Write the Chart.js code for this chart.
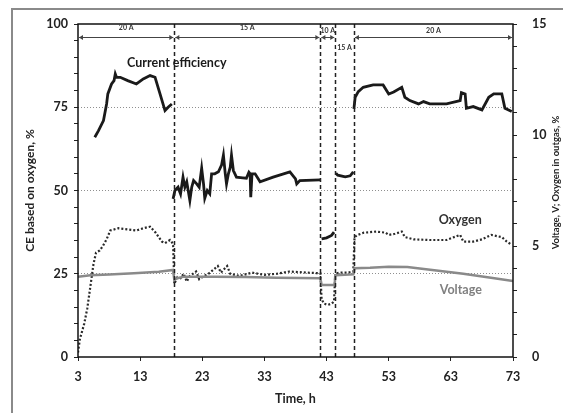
<!DOCTYPE html>
<html><head><meta charset="utf-8">
<script src="https://cdn.jsdelivr.net/npm/chart.js@4.4.0/dist/chart.umd.min.js"></script>
<style>html,body{margin:0;padding:0;background:#fff;}canvas{display:block;}</style>
</head><body>
<canvas id="c" width="563" height="413"></canvas>
<script>
// ---- data ----
const xTickValues = [3, 13, 23, 33, 43, 53, 63, 73];
const leftLabelValues = [0, 25, 50, 75, 100];
const rightLabelValues = [0, 5, 10, 15];

// current efficiency (left axis, %), null = gap between current periods
const ceTime = [5.7,6.3,7.1,7.6,7.8,8.4,8.8,9.0,9.2,9.8,11.0,12.4,13.5,14.6,15.4,16.2,17.0,17.5,18.1,18.2,
  18.3,18.6,19.1,19.5,19.9,20.2,20.5,21.0,21.3,21.6,22.1,22.5,22.9,23.2,23.4,23.8,24.2,24.5,25.0,25.6,26.1,26.4,26.7,26.9,27.2,27.5,27.7,28.0,28.5,29.5,30.1,30.5,30.7,30.8,31.0,31.5,32.3,34.4,37.1,38.0,38.2,38.7,42.0,42.1,
  42.2,43.0,43.8,44.2,44.3,
  44.5,44.8,46.0,46.8,47.3,47.35,
  47.4,47.6,48.1,48.9,50.5,52.1,53.0,53.8,55.1,55.6,56.4,57.8,58.6,59.6,62.3,64.5,64.7,65.3,65.5,66.6,68.0,69.1,69.9,71.2,71.7,72.8];
const ceValue = [66,68,71,76,79,82,83,85,84,84,83,82,83.5,84.5,84,79,74,75,76,null,
  47.5,50,51,49,54,51,52.6,47,51,53,52,51,56.7,52,47.7,50,49,55,55,55.6,57.6,60.6,55,52,55,57,60.6,56,54,53.8,53.7,55.5,55,48,55,55,52.6,54,55.6,53.5,52,53,53.2,null,
  35.5,35.8,36.5,37.5,null,
  55.2,54.6,54.1,54.4,55.6,null,
  74.5,78,79.7,81,81.7,81.7,79,79.6,81,78,77,76,76.7,76,76,77,79.4,79,74.7,75.2,74.2,78,79,79,74.7,73.7];

// oxygen in outgas (right axis, %)
const o2Time = [3.0,3.3,3.7,4.0,4.5,5.0,5.5,5.9,6.5,7.0,7.6,8.2,9.5,11.0,12.4,13.5,14.6,15.5,16.5,17.0,17.8,18.3,
  18.5,19.0,19.5,20.0,20.5,21.0,22.0,22.5,23.0,24.0,25.5,26.0,27.0,27.5,29.0,31.0,33.0,35.0,37.0,40.0,42.0,
  42.2,42.6,43.2,43.8,44.2,
  44.4,45.0,46.5,47.3,
  47.5,48.0,49.0,51.0,52.5,53.0,54.0,55.1,55.6,57.0,59.6,62.3,64.0,64.5,65.0,66.6,68.0,69.5,71.2,72.0,72.8];
const o2Value = [0.2,0.8,1.2,1.5,2.2,3.2,4.2,4.7,4.8,5.0,5.3,5.7,5.8,5.75,5.7,5.8,5.87,5.6,5.2,5.13,5.27,5.1,
  3.3,3.6,3.55,3.75,3.4,3.65,3.85,3.5,3.6,3.75,4.1,3.8,4.1,3.75,3.65,3.8,3.7,3.75,3.85,3.8,3.77,
  2.6,2.4,2.35,2.4,2.5,
  3.75,3.8,3.8,3.85,
  5.4,5.5,5.6,5.65,5.6,5.5,5.55,5.65,5.4,5.3,5.27,5.27,5.45,5.5,5.2,5.2,5.3,5.5,5.4,5.2,5.05];

// cell voltage (right axis, V)
const vTime = [3.0,5.0,8.0,12.0,16.0,18.3,18.5,19.0,20.0,25.0,30.0,35.0,42.0,42.2,44.3,44.4,47.3,47.5,50.0,53.0,56.0,60.0,65.0,70.0,73.0];
const vValue = [3.62,3.68,3.72,3.77,3.84,3.92,3.47,3.55,3.62,3.62,3.6,3.57,3.55,3.24,3.24,3.68,3.72,4.0,4.02,4.07,4.05,3.92,3.75,3.55,3.42];

// current periods
const periodStart = [3, 18.5, 42, 44.4, 47.4];
const periodEnd   = [18.5, 42, 44.4, 47.4, 73];
const periodLabel = ['20 A', '15 A', '10 A', '15 A', '20 A'];
const currentChanges = [18.5, 42, 44.4, 47.4];

// ---- styles / layout ----
const FONT = "Lato, 'Open Sans', sans-serif";
const periodArrowOffset = [13, 13, 13, 24, 13];   // px below chart top
const periodLabelOffset = [4, 4, 7, 24, 7];

function pts(t, v){ return t.map((x,i)=>({x:x, y:v[i]})); }

const decor = {
  id: 'decor',
  beforeDraw(chart){
    const ctx = chart.ctx;
    ctx.save();
    ctx.fillStyle = '#fff';
    ctx.fillRect(0,0,chart.width,chart.height);
    ctx.strokeStyle = '#8a8a8a';
    ctx.lineWidth = 2;
    ctx.strokeRect(12, 9, chart.width + 20, chart.height + 20);
    ctx.restore();
  },
  afterDatasetsDraw(chart){
    const ctx = chart.ctx, a = chart.chartArea;
    const xs = chart.scales.x, yl = chart.scales.y, yr = chart.scales.y2;
    ctx.save();
    ctx.strokeStyle = '#222'; ctx.lineWidth = 1.5; ctx.setLineDash([4,3]);
    currentChanges.forEach(t=>{
      const px = Math.round(xs.getPixelForValue(t)) + 0.5;
      ctx.beginPath(); ctx.moveTo(px, a.top); ctx.lineTo(px, a.bottom); ctx.stroke();
    });
    ctx.setLineDash([]);
    ctx.strokeStyle = '#111'; ctx.lineWidth = 1.5;
    ctx.strokeRect(a.left, a.top, a.right - a.left, a.bottom - a.top);
    ctx.lineWidth = 1; ctx.strokeStyle = '#444'; ctx.fillStyle = '#444';
    ctx.font = "bold 7px " + FONT; ctx.textAlign = 'center'; ctx.textBaseline = 'middle';
    periodStart.forEach((s,i)=>{
      const x1 = xs.getPixelForValue(s) + 1, x2 = xs.getPixelForValue(periodEnd[i]) - 1;
      const y = a.top + periodArrowOffset[i] + 0.5;
      ctx.beginPath(); ctx.moveTo(x1, y); ctx.lineTo(x2, y); ctx.stroke();
      ctx.beginPath(); ctx.moveTo(x1, y); ctx.lineTo(x1+4, y-2.5); ctx.lineTo(x1+4, y+2.5); ctx.closePath(); ctx.fill();
      ctx.beginPath(); ctx.moveTo(x2, y); ctx.lineTo(x2-4, y-2.5); ctx.lineTo(x2-4, y+2.5); ctx.closePath(); ctx.fill();
      const lx = (x1 + x2) / 2, ly = a.top + periodLabelOffset[i];
      if (periodLabelOffset[i] === periodArrowOffset[i]) {
        const w = ctx.measureText(periodLabel[i]).width;
        ctx.fillStyle = '#fff'; ctx.fillRect(lx - w/2 - 1, ly - 4, w + 2, 8);
      }
      ctx.fillStyle = '#333';
      ctx.fillText(periodLabel[i], lx, ly);
      ctx.fillStyle = '#444';
    });
    ctx.font = "bold 12.5px " + FONT; ctx.textAlign = 'center'; ctx.textBaseline = 'middle';
    ctx.fillStyle = '#1a1a1a';
    ctx.fillText('Current efficiency', xs.getPixelForValue(18.9), yl.getPixelForValue(88.3));
    ctx.fillStyle = '#333';
    ctx.fillText('Oxygen', xs.getPixelForValue(64.5), yr.getPixelForValue(6.17));
    ctx.fillStyle = '#808080';
    ctx.fillText('Voltage', xs.getPixelForValue(64.6), yr.getPixelForValue(3.02));
    ctx.save();
    ctx.translate(556, (a.top + a.bottom) / 2 - 8);
    ctx.rotate(-Math.PI / 2);
    ctx.font = "bold 9.5px " + FONT; ctx.fillStyle = '#222';
    ctx.fillText('Voltage, V; Oxygen in outgas, %', 0, 0);
    ctx.restore();
    ctx.restore();
  }
};

new Chart(document.getElementById('c'), {
  type: 'line',
  data: {
    datasets: [
      { label: 'Voltage', data: pts(vTime, vValue), yAxisID: 'y2', borderColor: '#8a8a8a', borderWidth: 2.5, pointRadius: 0, tension: 0 },
      { label: 'Oxygen', data: pts(o2Time, o2Value), yAxisID: 'y2', borderColor: '#2a2a2a', borderWidth: 2.2, borderDash: [2, 2], pointRadius: 0, tension: 0 },
      { label: 'Current efficiency', data: pts(ceTime, ceValue), yAxisID: 'y', borderColor: '#1a1a1a', borderWidth: 2.8, pointRadius: 0, tension: 0, spanGaps: false }
    ]
  },
  options: {
    responsive: false, animation: false,
    layout: { padding: { top: 24, left: 0, right: 0, bottom: 0 } },
    plugins: { legend: { display: false }, tooltip: { enabled: false } },
    scales: {
      x: {
        type: 'linear', min: 3, max: 73,
        afterBuildTicks: s => { s.ticks = xTickValues.map(v => ({ value: v })); },
        afterFit: s => { s.height = 56; },
        grid: { drawOnChartArea: false, tickLength: 4, tickColor: '#222' },
        border: { display: false },
        ticks: { autoSkip: false, maxRotation: 0, padding: 8, color: '#222', font: { family: FONT, size: 12.5, weight: 'bold' } },
        title: { display: true, text: 'Time, h', color: '#222', padding: { top: 0, bottom: 7 }, font: { family: FONT, size: 12.5, weight: 'bold' } }
      },
      y: {
        position: 'left', min: 0, max: 100,
        ticks: { stepSize: 5, autoSkip: false, padding: 6, color: '#222',
          callback: v => leftLabelValues.includes(v) ? String(v) : '',
          font: { family: FONT, size: 12.5, weight: 'bold' } },
        afterFit: s => { s.width = 78; },
        grid: { tickLength: 4, tickColor: '#222', lineWidth: 1,
          color: c => (c.tick && [25, 50, 75].includes(c.tick.value)) ? '#8f8f8f' : 'rgba(0,0,0,0)' },
        border: { display: false, dash: [1, 2] },
        title: { display: true, text: 'CE based on oxygen, %', color: '#222', padding: { top: 23, bottom: 0 }, font: { family: FONT, size: 12, weight: 'bold' } }
      },
      y2: {
        position: 'right', min: 0, max: 15,
        ticks: { stepSize: 1, autoSkip: false, padding: 15, color: '#222',
          callback: v => rightLabelValues.includes(v) ? String(v) : '',
          font: { family: FONT, size: 12.5, weight: 'bold' } },
        afterFit: s => { s.width = 50; },
        grid: { drawOnChartArea: false, tickLength: 4, tickColor: '#222' },
        border: { display: false }
      }
    }
  },
  plugins: [decor]
});
</script>
</body></html>
